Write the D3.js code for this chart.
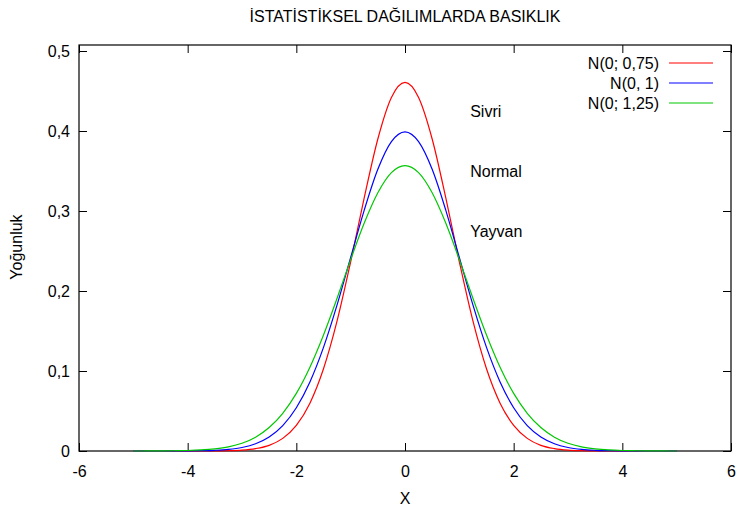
<!DOCTYPE html>
<html>
<head>
<meta charset="utf-8">
<script src="https://cdn.jsdelivr.net/npm/d3@7"></script>
<style>
  body { margin: 0; background: #fff; }
  text { font-family: "Liberation Sans", Arial, sans-serif; fill: #000; }
</style>
</head>
<body>
<div class="chart"></div>
<script>
// x positions of the samples
var xVals = [-5, -4.75, -4.5, -4.25, -4, -3.75, -3.5, -3.25, -3, -2.75, -2.5, -2.25, -2, -1.75, -1.5, -1.25, -1, -0.75, -0.5, -0.25,
             0, 0.25, 0.5, 0.75, 1, 1.25, 1.5, 1.75, 2, 2.25, 2.5, 2.75, 3, 3.25, 3.5, 3.75, 4, 4.25, 4.5, 4.75, 5];

// densities
var sivri = [0, 0, 0, 0, 0, 0.00004, 0.0001, 0.0004, 0.0011, 0.0030, 0.0071, 0.0158, 0.0320, 0.0598, 0.1028, 0.1626, 0.2365, 0.3166, 0.3900, 0.4419,
             0.4607, 0.4419, 0.3900, 0.3166, 0.2365, 0.1626, 0.1028, 0.0598, 0.0320, 0.0158, 0.0071, 0.0030, 0.0011, 0.0004, 0.0001, 0.00004, 0, 0, 0, 0, 0];
var normal = [0, 0, 0, 0, 0.0001, 0.0004, 0.0009, 0.0020, 0.0044, 0.0091, 0.0175, 0.0317, 0.0540, 0.0863, 0.1295, 0.1826, 0.2420, 0.3011, 0.3521, 0.3867,
              0.3989, 0.3867, 0.3521, 0.3011, 0.2420, 0.1826, 0.1295, 0.0863, 0.0540, 0.0317, 0.0175, 0.0091, 0.0044, 0.0020, 0.0009, 0.0004, 0.0001, 0, 0, 0, 0];
var yayvan = [0, 0.00004, 0.0001, 0.0003, 0.0006, 0.0013, 0.0027, 0.0052, 0.0097, 0.0173, 0.0293, 0.0471, 0.0720, 0.1048, 0.1451, 0.1910, 0.2392, 0.2849, 0.3228, 0.3480,
              0.3568, 0.3480, 0.3228, 0.2849, 0.2392, 0.1910, 0.1451, 0.1048, 0.0720, 0.0471, 0.0293, 0.0173, 0.0097, 0.0052, 0.0027, 0.0013, 0.0006, 0.0003, 0.0001, 0.00004, 0];

var seriesNames = ["N(0; 0,75)", "N(0, 1)", "N(0; 1,25)"];
var seriesColors = ["#ff0000", "#0000ff", "#00c800"];

var xTicks = [-6, -4, -2, 0, 2, 4, 6];
var yTicks = [0, 0.1, 0.2, 0.3, 0.4, 0.5];

// text labels next to the peaks: [label, x, y]
var notes = [["Sivri", 1.2, 0.424], ["Normal", 1.2, 0.349], ["Yayvan", 1.2, 0.274]];

var width = 737, height = 507;
var plotL = 79, plotR = 731, plotT = 45, plotB = 451;
var fs = "16px";

var svg = d3.select(".chart").append("svg")
    .attr("width", width)
    .attr("height", height);

var x = d3.scaleLinear().domain([-6, 6]).range([plotL, plotR]);
var y = d3.scaleLinear().domain([0, 0.5075]).range([plotB, plotT]);

var comma = function(d) { return String(d).replace(".", ","); };

//ticks on all four sides, gnuplot style (inward)
svg.append("g")
    .attr("transform", "translate(0," + plotB + ")")
    .call(d3.axisBottom(x).tickValues(xTicks).tickSize(-8).tickPadding(15).tickFormat(comma))
    .attr("font-size", fs);
svg.append("g")
    .attr("transform", "translate(0," + plotT + ")")
    .call(d3.axisTop(x).tickValues(xTicks).tickSize(-8).tickFormat(""));
svg.append("g")
    .attr("transform", "translate(" + plotL + ",0)")
    .call(d3.axisLeft(y).tickValues(yTicks).tickSize(-8).tickPadding(9).tickFormat(comma))
    .attr("font-size", fs);
svg.append("g")
    .attr("transform", "translate(" + plotR + ",0)")
    .call(d3.axisRight(y).tickValues(yTicks).tickSize(-8).tickFormat(""));

svg.selectAll(".domain").remove();
svg.selectAll(".tick line").attr("stroke", "#000");
svg.selectAll(".tick text").attr("font-family", "Liberation Sans, Arial, sans-serif");

//frame
svg.append("rect")
    .attr("x", plotL)
    .attr("y", plotT)
    .attr("width", plotR - plotL)
    .attr("height", plotB - plotT)
    .attr("fill", "none")
    .attr("stroke", "#000")
    .attr("stroke-width", 1.2);

//curves
var line = d3.line()
    .x(function(d, i) { return x(xVals[i]); })
    .y(function(d) { return y(d); })
    .curve(d3.curveMonotoneX);

[sivri, normal, yayvan].forEach(function(s, i) {
    svg.append("path")
        .datum(s)
        .attr("fill", "none")
        .attr("stroke", seriesColors[i])
        .attr("stroke-width", 1.2)
        .attr("d", line);
});

//legend
seriesNames.forEach(function(n, i) {
    var ly = 63 + i * 20;
    svg.append("text")
        .attr("x", 659)
        .attr("y", ly)
        .attr("dy", "0.35em")
        .attr("text-anchor", "end")
        .attr("font-size", fs)
        .text(n);
    svg.append("line")
        .attr("x1", 669)
        .attr("x2", 713)
        .attr("y1", ly)
        .attr("y2", ly)
        .attr("stroke", seriesColors[i])
        .attr("stroke-width", 1.2);
});

//notes
notes.forEach(function(n) {
    svg.append("text")
        .attr("x", x(n[1]))
        .attr("y", y(n[2]))
        .attr("dy", "0.35em")
        .attr("font-size", fs)
        .text(n[0]);
});

//title and axis labels
svg.append("text")
    .attr("x", 405)
    .attr("y", 16)
    .attr("dy", "0.35em")
    .attr("text-anchor", "middle")
    .attr("font-size", fs)
    .text("İSTATİSTİKSEL DAĞILIMLARDA BASIKLIK");

svg.append("text")
    .attr("x", 405)
    .attr("y", 498)
    .attr("dy", "0.35em")
    .attr("text-anchor", "middle")
    .attr("font-size", fs)
    .text("X");

svg.append("text")
    .attr("transform", "translate(16," + 247 + ") rotate(-90)")
    .attr("dy", "0.35em")
    .attr("text-anchor", "middle")
    .attr("font-size", fs)
    .text("Yoğunluk");
</script>
</body>
</html>
